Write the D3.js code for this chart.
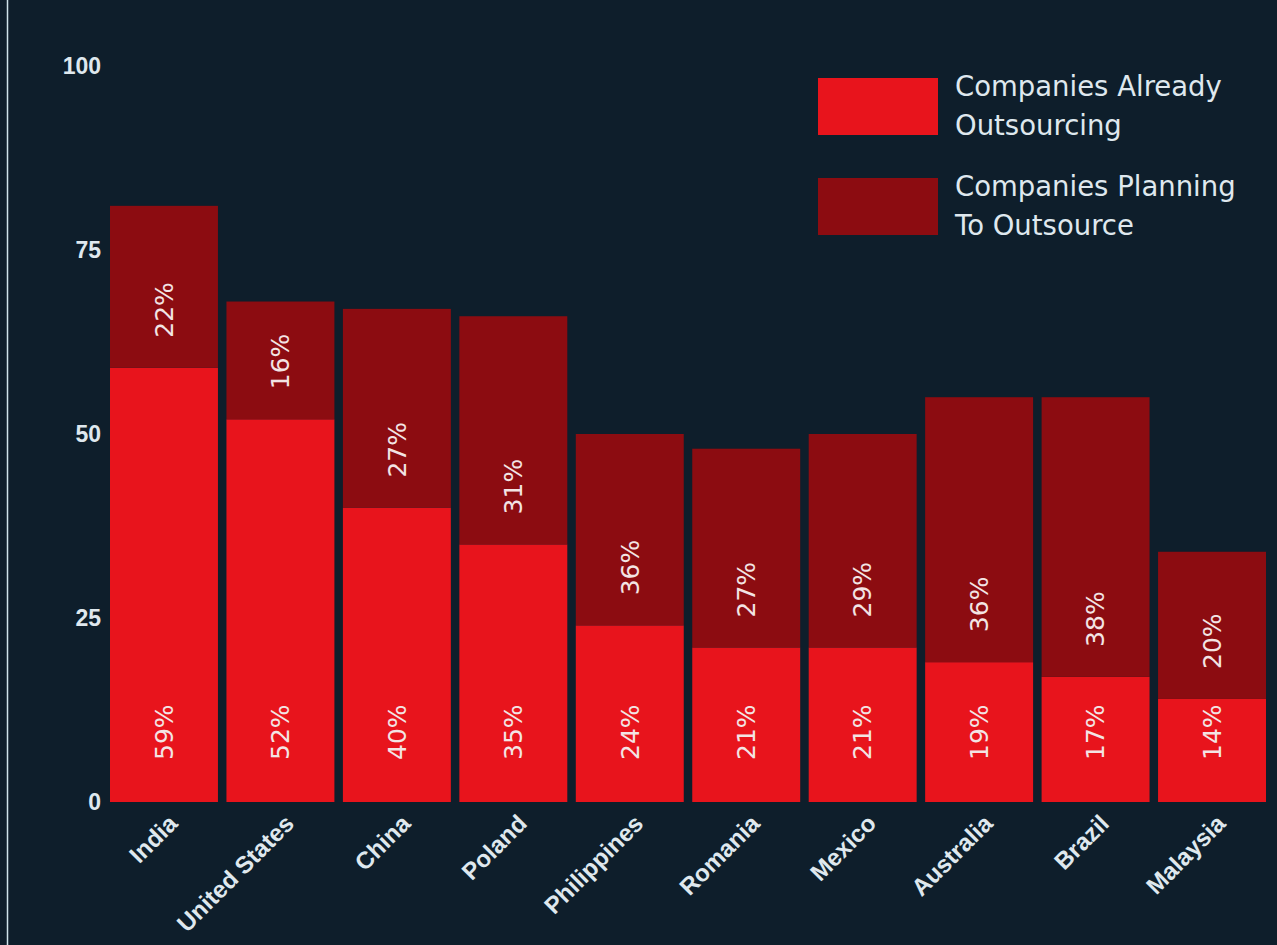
<!DOCTYPE html>
<html>
<head>
<meta charset="utf-8">
<script src="https://cdn.jsdelivr.net/npm/d3@7"></script>
<style>
  body { margin: 0; background: #0e1e2b; }
</style>
</head>
<body>
<div id="chart"></div>
<script>
// chart data
var countries = ["India", "United States", "China", "Poland", "Philippines",
                 "Romania", "Mexico", "Australia", "Brazil", "Malaysia"];
var already = [59, 52, 40, 35, 24, 21, 21, 19, 17, 14];
// bar heights as drawn in the picture
var planning = [22, 16, 27, 31, 26, 27, 29, 36, 38, 20];
// labels as printed on the bars
var alreadyLabels = ["59%", "52%", "40%", "35%", "24%", "21%", "21%", "19%", "17%", "14%"];
var planningLabels = ["22%", "16%", "27%", "31%", "36%", "27%", "29%", "36%", "38%", "20%"];
var yTicks = [0, 25, 50, 75, 100];
var seriesNames = ["Companies Already Outsourcing", "Companies Planning To Outsource"];
var legendLines = [["Companies Already", "Outsourcing"], ["Companies Planning", "To Outsource"]];

function init() {
    var w = 1277;
    var h = 945;
    var colors = ["#e8141c", "#8c0c11"];

    var dataset = countries.map(function(c, i) {
      return {country: c, already: already[i], planning: planning[i]};
    });

    var stack = d3.stack().keys(["already", "planning"]);
    var series = stack(dataset);

    var svg = d3.select("#chart")
                .append("svg")
                .attr("width", w)
                .attr("height", h)
                .style("font-family", "'DejaVu Sans', sans-serif");

    svg.append("rect")
       .attr("width", w)
       .attr("height", h)
       .attr("fill", "#0e1e2b");

    // thin light border on the left edge
    svg.append("line")
       .attr("x1", 7.5).attr("x2", 7.5)
       .attr("y1", 0).attr("y2", h)
       .attr("stroke", "#cfe3ea")
       .attr("stroke-width", 1.5);

    var xScale = d3.scaleBand()
                   .domain(countries)
                   .range([110, 1266])
                   .paddingInner(0.073)
                   .paddingOuter(0);

    var yScale = d3.scaleLinear()
                   .domain([0, 100])
                   .range([802, 66]);

    // y axis, labels only
    var yAxis = svg.append("g")
                   .attr("transform", "translate(101,0)")
                   .call(d3.axisLeft(yScale).tickValues(yTicks).tickSize(0).tickPadding(0));
    yAxis.select(".domain").remove();
    yAxis.selectAll("text")
         .attr("fill", "#dfe8ee")
         .style("font-size", "23px")
         .style("font-weight", "bold")
         .style("font-family", "'Liberation Sans', Arial, sans-serif");

    // stacked bars
    var group = svg.selectAll("g.series")
                   .data(series)
                   .enter()
                   .append("g")
                   .attr("class", "series")
                   .attr("fill", function(d, i) { return colors[i]; });

    group.selectAll("rect")
         .data(function(d) { return d; })
         .enter()
         .append("rect")
         .attr("x", function(d) { return xScale(d.data.country); })
         .attr("y", function(d) { return yScale(d[1]); })
         .attr("height", function(d) { return yScale(d[0]) - yScale(d[1]); })
         .attr("width", xScale.bandwidth());

    // rotated value labels
    function addLabels(labels, yPos) {
      svg.append("g")
         .selectAll("text")
         .data(countries)
         .enter()
         .append("text")
         .attr("transform", function(d, i) {
           return "translate(" + (xScale(d) + xScale.bandwidth() / 2) + "," + yPos(i) + ") rotate(-90)";
         })
         .attr("dy", "0.35em")
         .attr("fill", "#f3e4e4")
         .style("font-size", "25px")
         .text(function(d, i) { return labels[i]; });
    }
    addLabels(alreadyLabels, function(i) { return yScale(0) - 42; });
    addLabels(planningLabels, function(i) { return yScale(already[i]) - 30; });

    // x labels
    svg.append("g")
       .selectAll("text")
       .data(countries)
       .enter()
       .append("text")
       .attr("transform", function(d) {
         return "translate(" + (xScale(d) + xScale.bandwidth() / 2 + 15) + ",825) rotate(-45)";
       })
       .attr("text-anchor", "end")
       .attr("fill", "#dfe8ee")
       .style("font-family", "'Liberation Sans', Arial, sans-serif")
       .style("font-size", "24px")
       .style("font-weight", "bold")
       .text(function(d) { return d; });

    // legend
    var legend = svg.selectAll("g.legend")
                    .data(seriesNames)
                    .enter()
                    .append("g")
                    .attr("class", "legend")
                    .attr("transform", function(d, i) { return "translate(818," + (78 + i * 100) + ")"; });

    legend.append("rect")
          .attr("width", 120)
          .attr("height", 57)
          .attr("fill", function(d, i) { return colors[i]; });

    legend.append("text")
          .attr("x", 137)
          .attr("fill", "#dfe8ee")
          .style("font-size", "27.5px")
          .selectAll("tspan")
          .data(function(d, i) { return legendLines[i]; })
          .enter()
          .append("tspan")
          .attr("x", 137)
          .attr("y", function(d, j) { return 18 + j * 39; })
          .text(function(d) { return d; });
}

window.onload = init;
</script>
</body>
</html>
